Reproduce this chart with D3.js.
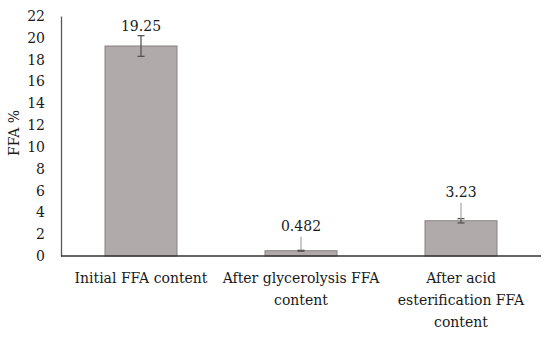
<!DOCTYPE html>
<html>
<head>
<meta charset="utf-8">
<script src="https://cdn.jsdelivr.net/npm/d3@7"></script>
<style>
  body { margin: 0; background: #fff; }
  svg { display: block; }
  text { font-family: "DejaVu Serif", serif; fill: #1a1a1a; }
</style>
</head>
<body>
<script>
// chart data
const categories = ["Initial FFA content", "After glycerolysis FFA content", "After acid esterification FFA content"]
const labelLines = [["Initial FFA content"], ["After glycerolysis FFA", "content"], ["After acid", "esterification FFA", "content"]]
const values = [19.25, 0.482, 3.23]
const errors = [0.95, 0.04, 0.2]
const valueLabels = ["19.25", "0.482", "3.23"]
const yTicks = [0, 2, 4, 6, 8, 10, 12, 14, 16, 18, 20, 22]

const width = 550, height = 339
const margin = {top: 16, right: 9, bottom: 83, left: 61}
const fontSize = "14px"

const svg = d3.select("body").append("svg")
  .attr("width", width)
  .attr("height", height)

const x = d3.scaleBand()
  .domain(categories)
  .range([margin.left, width - margin.right])
  .paddingInner(0.55)
  .paddingOuter(0.275)

const y = d3.scaleLinear()
  .domain([0, 22])
  .range([height - margin.bottom, margin.top])

// y axis: line plus labels, no ticks
const yAxis = svg.append("g")
  .attr("transform", `translate(${margin.left},0)`)
  .call(d3.axisLeft(y).tickValues(yTicks).tickSize(0).tickPadding(16))
yAxis.select(".domain").attr("stroke", "#595959").attr("stroke-width", 1.3)
yAxis.selectAll("text")
  .style("font-family", "DejaVu Serif, serif")
  .style("font-size", fontSize)
  .attr("fill", "#1a1a1a")

// bars
svg.append("g").selectAll("rect")
  .data(values)
  .join("rect")
  .attr("x", (d, i) => x(categories[i]))
  .attr("y", d => y(d))
  .attr("width", x.bandwidth())
  .attr("height", d => y(0) - y(d))
  .attr("fill", "#b0abaa")
  .attr("stroke", "#858080")
  .attr("stroke-width", 1)

// x axis line
svg.append("line")
  .attr("x1", margin.left)
  .attr("x2", width - margin.right)
  .attr("y1", y(0))
  .attr("y2", y(0))
  .attr("stroke", "#333")
  .attr("stroke-width", 1.3)

// error bars
const cap = 3.5
const err = svg.append("g").attr("stroke", "#555").attr("stroke-width", 1.3)
values.forEach((v, i) => {
  let cx = x(categories[i]) + x.bandwidth() / 2
  let top = y(v + errors[i]), bot = y(v - errors[i])
  err.append("line").attr("x1", cx).attr("x2", cx).attr("y1", top).attr("y2", bot)
  err.append("line").attr("x1", cx - cap).attr("x2", cx + cap).attr("y1", top).attr("y2", top)
  err.append("line").attr("x1", cx - cap).attr("x2", cx + cap).attr("y1", bot).attr("y2", bot)
})

// value labels; the small bars have their label moved up with a leader line
const leader = [0, 13, 17]
values.forEach((v, i) => {
  let cx = x(categories[i]) + x.bandwidth() / 2
  let base = y(v + errors[i]) - 5
  if (leader[i]) {
    svg.append("line")
      .attr("x1", cx).attr("x2", cx)
      .attr("y1", y(v) - 1).attr("y2", y(v) - 1 - leader[i])
      .attr("stroke", "#a6a6a6").attr("stroke-width", 1.2)
    base = y(v) - leader[i] - 7
  }
  svg.append("text")
    .attr("x", cx)
    .attr("y", base)
    .attr("text-anchor", "middle")
    .style("font-size", fontSize)
    .text(valueLabels[i])
})

// category labels (wrapped)
labelLines.forEach((lines, i) => {
  let cx = x(categories[i]) + x.bandwidth() / 2
  lines.forEach((ln, j) => {
    svg.append("text")
      .attr("x", cx)
      .attr("y", y(0) + 27 + j * 22)
      .attr("text-anchor", "middle")
      .style("font-size", fontSize)
      .text(ln)
  })
})

// y axis title
svg.append("text")
  .attr("transform", `translate(19,${(margin.top + y(0)) / 2 - 3}) rotate(-90)`)
  .attr("text-anchor", "middle")
  .style("font-size", fontSize)
  .text("FFA %")
</script>
</body>
</html>
